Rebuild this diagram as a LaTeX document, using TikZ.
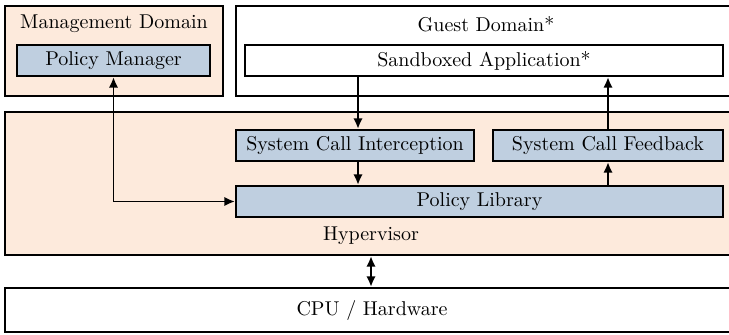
\documentclass[tikz,border=0pt]{standalone}
\usetikzlibrary{arrows.meta}
\definecolor{peach}{RGB}{253,234,220}
\definecolor{paleblue}{RGB}{191,207,224}
\begin{document}
\begin{tikzpicture}[x=0.48pt,y=-0.48pt,
  every node/.style={font=\fontsize{9.6}{11.5}\selectfont},
  frmbox/.style={draw=black,line width=1.1pt,rectangle,inner sep=0pt},
  dombox/.style={frmbox,fill=peach},
  whbox/.style={frmbox,fill=white},
  compbox/.style={frmbox,fill=paleblue,minimum height=31*0.48pt},
  txtlbl/.style={inner sep=0pt},
  connarrow/.style={line width=0.95pt,-{Latex[length=5pt,width=4.5pt]}},
  connboth/.style={line width=0.95pt,{Latex[length=5pt,width=4.5pt]}-{Latex[length=5pt,width=4.5pt]}}]
\useasboundingbox (0,0) rectangle (729,334);
\begin{scope}
\clip (0,0) rectangle (729,334);
% domains
\node[dombox,minimum width=218*0.48pt,minimum height=90*0.48pt] (mgmt) at (114,51) {};
\node[whbox,minimum width=504*0.48pt,minimum height=90*0.48pt] (guest) at (488,51) {};
\node[dombox,minimum width=735*0.48pt,minimum height=143*0.48pt] (hyp) at (372.5,183.5) {};
\node[whbox,minimum width=735*0.48pt,minimum height=44*0.48pt] (cpu) at (372.5,310) {};
\end{scope}
% labels
\node[txtlbl] (mgmtlbl) at (114,24) {Management Domain};
\node[txtlbl] (guestlbl) at (486,24) {Guest Domain*};
\node[txtlbl] (hyplbl) at (371,236) {Hypervisor};
\node[txtlbl] (cpulbl) at (372,310) {CPU / Hardware};
% components
\node[compbox,minimum width=193*0.48pt] (pm) at (113.5,60.5) {Policy Manager};
\node[whbox,minimum height=31*0.48pt,minimum width=478*0.48pt] (app) at (484,60.5) {Sandboxed Application*};
\node[compbox,minimum width=238*0.48pt] (sci) at (355,145.5) {System Call Interception};
\node[compbox,minimum width=230*0.48pt] (scf) at (608,145.5) {System Call Feedback};
\node[compbox,minimum width=487*0.48pt] (pl) at (479.5,201.5) {Policy Library};
% connectors
\draw[connarrow] (app.south -| 358,0) -- (sci.north -| 358,0);
\draw[connarrow] (sci.south -| 358,0) -- (pl.north -| 358,0);
\draw[connarrow] (pl.north -| scf.south) -- (scf.south);
\draw[connarrow] (scf.north) -- (app.south -| scf.north);
\draw[connboth] (pm.south -| 113.5,0) |- (pl.west);
\draw[connboth] (hyp.south -| 371,0) -- (cpu.north -| 371,0);
\end{tikzpicture}
\end{document}
